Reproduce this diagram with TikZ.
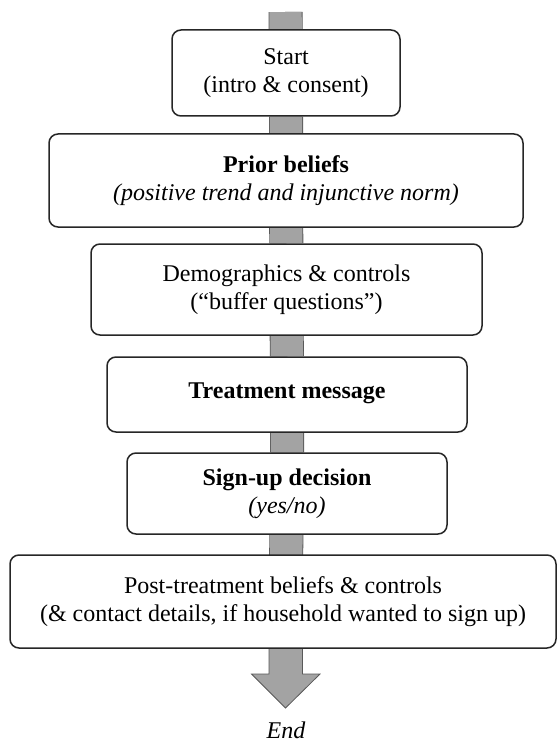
\documentclass[tikz,border=0pt]{standalone}
\usepackage{fontspec}
\setmainfont{Liberation Serif}
\usepackage{tikz}
\usetikzlibrary{calc}
\usetikzlibrary{backgrounds}

\tikzset{
    box/.style={draw=black!85, line width=0.75pt, rounded corners=4.5pt, fill=white,
        align=center, inner sep=2pt, font=\fontsize{12}{14}\selectfont},
    bar/.style={draw=gray!70!black, line width=0.4pt, double=gray!72, double distance=16.2pt},
    head/.style={draw=gray!70!black, line width=0.4pt, fill=gray!72},
}

\begin{document}
\begin{tikzpicture}[x=0.5pt, y=-0.5pt]
    \useasboundingbox (0,0) rectangle (557,743);

    \coordinate (top) at (285.5,12);
    \coordinate (tip) at (285.5,708);

    \node[box, minimum width=114pt, minimum height=43pt] (start) at (286,73)
        {Start\\(intro \& consent)};
    \node[box, minimum width=237pt, minimum height=46.5pt] (prior) at (286,180.5)
        {\textbf{Prior beliefs}\\\textit{(positive trend and injunctive norm)}};
    \node[box, minimum width=195.5pt, minimum height=45.5pt] (demo) at (286.5,289.5)
        {Demographics \& controls\\(``buffer questions'')};
    \node[box, minimum width=180pt, minimum height=37.5pt] (treat) at (287,394.5)
        {\raisebox{3.5pt}{\textbf{Treatment message}}};
    \node[box, minimum width=160pt, minimum height=40.5pt] (sign) at (287,493.5)
        {\textbf{Sign-up decision}\\\textit{(yes/no)}};
    \node[box, minimum width=273pt, minimum height=46.5pt] (post) at (283,601.5)
        {Post-treatment beliefs \& controls\\(\& contact details, if household wanted to sign up)};
    \node[font=\fontsize{12}{14}\selectfont\itshape, inner sep=1pt] (end) at (286,730) {End};

    % grey flow bar behind the boxes
    \begin{scope}[on background layer]
        \draw[bar] (top) -- (start) -- (prior) -- (demo) -- (treat) -- (sign) -- (top |- post.center);
        \draw[head] ($(tip)+(-16.5,-60)$) -- ++(0,26) -- ++(-17.5,0) -- (tip)
            -- ++(34.5,-34) -- ++(-17.5,0) -- ++(0,-26) -- cycle;
    \end{scope}
\end{tikzpicture}
\end{document}
